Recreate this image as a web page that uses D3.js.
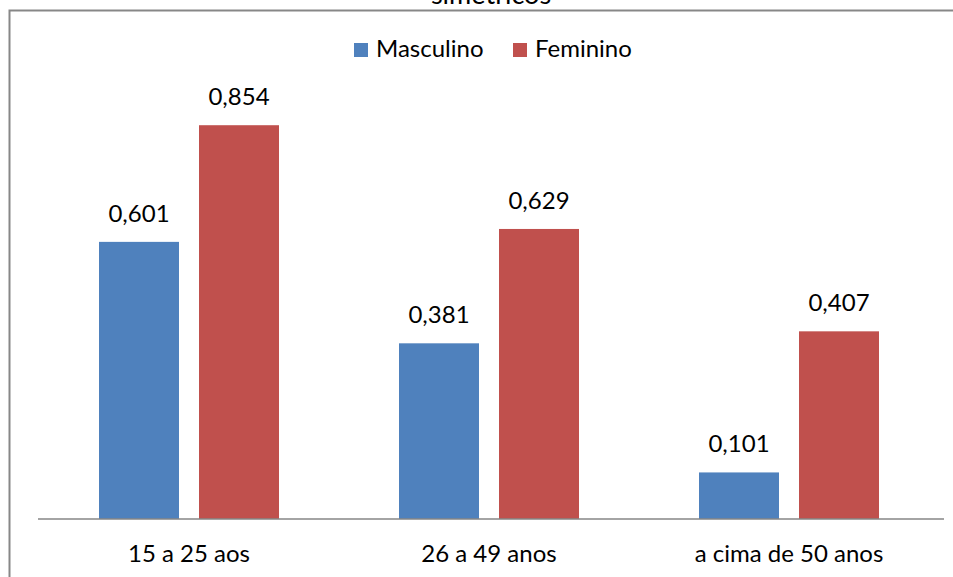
<!DOCTYPE html>
<html>
<head>
<meta charset="utf-8">
<script src="https://cdn.jsdelivr.net/npm/d3@7/dist/d3.min.js"></script>
<style>
  html, body { margin: 0; padding: 0; background: #fff; }
  svg { display: block; }
  text { font-family: Lato, "Open Sans", sans-serif; fill: #000; }
</style>
</head>
<body>
<svg id="chart" width="953" height="577"></svg>
<script>
// Age groups and the two series
const categories = ["15 a 25 aos", "26 a 49 anos", "a cima de 50 anos"];
const seriesNames = ["Masculino", "Feminino"];
const masculino = [0.601, 0.381, 0.101];
const feminino = [0.854, 0.629, 0.407];
const seriesColors = ["#4F81BD", "#C0504D"];
const titleText = "simétricos";

const W = 953, H = 577;
const svg = d3.select("#chart");
const fmt = v => d3.format(".3f")(v).replace(".", ",");

const x0 = d3.scaleBand().domain(categories).range([39, 939]).paddingInner(0).paddingOuter(0);
const x1 = d3.scaleBand().domain(seriesNames).range([0, x0.bandwidth()]).paddingInner(0.2).paddingOuter(0.6);
const y = d3.scaleLinear().domain([0, 0.9]).range([519, 104]);

// Chart frame (top and left edges)
svg.append("path")
  .attr("d", `M9.5,${H} V10.5 H${W}`)
  .attr("fill", "none")
  .attr("stroke", "#878787")
  .attr("stroke-width", 2);

// Last line of the title, running off the top edge
svg.append("text")
  .attr("x", 491).attr("y", 4)
  .attr("text-anchor", "middle")
  .attr("font-size", 27)
  .text(titleText);

const data = categories.map((c, i) => ({ cat: c, values: [masculino[i], feminino[i]] }));

const groups = svg.append("g").selectAll("g")
  .data(data).join("g")
  .attr("transform", d => `translate(${x0(d.cat)},0)`);

const bars = groups.selectAll("g.bar")
  .data(d => d.values.map((v, j) => ({ name: seriesNames[j], v, j })))
  .join("g").attr("class", "bar");

bars.append("rect")
  .attr("x", d => x1(d.name))
  .attr("width", x1.bandwidth())
  .attr("y", d => y(d.v))
  .attr("height", d => y(0) - y(d.v))
  .attr("fill", d => seriesColors[d.j]);

bars.append("text")
  .attr("x", d => x1(d.name) + x1.bandwidth() / 2)
  .attr("y", d => y(d.v) - 20)
  .attr("text-anchor", "middle")
  .attr("font-size", 24)
  .text(d => fmt(d.v));

// Category axis
const axis = svg.append("g").attr("transform", `translate(0,${y(0)})`);
axis.append("line")
  .attr("x1", 38).attr("x2", 944)
  .attr("stroke", "#868686").attr("stroke-width", 1.5);
axis.selectAll("text.cat")
  .data(categories).join("text").attr("class", "cat")
  .attr("x", d => x0(d) + x0.bandwidth() / 2)
  .attr("y", 43)
  .attr("text-anchor", "middle")
  .attr("font-size", 24)
  .text(d => d);

// Legend
const legendItems = [
  { name: seriesNames[0], color: seriesColors[0], x: 354 },
  { name: seriesNames[1], color: seriesColors[1], x: 513 }
];
const lg = svg.append("g").selectAll("g").data(legendItems).join("g")
  .attr("transform", d => `translate(${d.x},0)`);
lg.append("rect").attr("x", 0).attr("y", 43).attr("width", 14).attr("height", 14)
  .attr("fill", d => d.color);
lg.append("text").attr("x", 22).attr("y", 57).attr("font-size", 24).text(d => d.name);
</script>
</body>
</html>
